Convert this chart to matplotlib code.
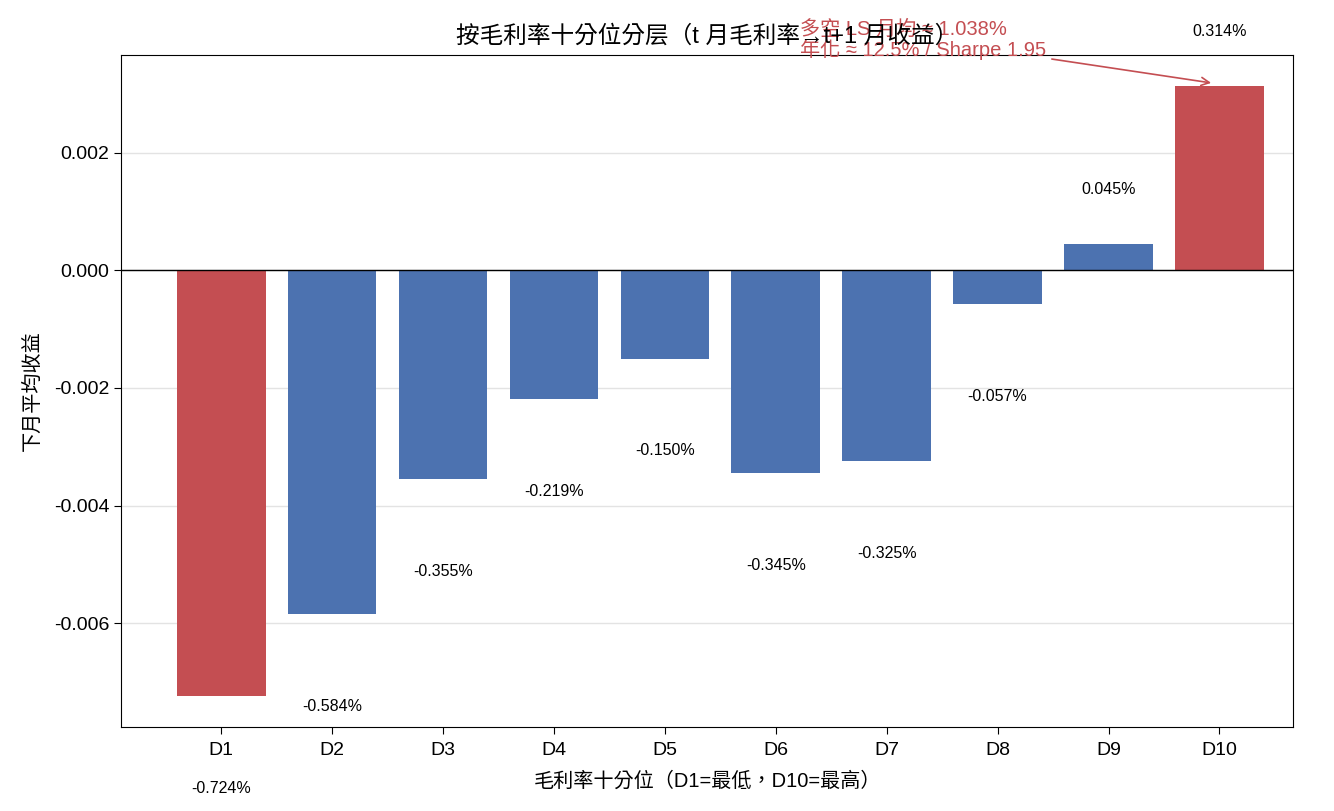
import numpy as np
import matplotlib.pyplot as plt

plt.rcParams['font.family'] = ['Liberation Sans', 'Noto Sans CJK TC', 'DejaVu Sans']
plt.rcParams['axes.unicode_minus'] = False

deciles = ['D1', 'D2', 'D3', 'D4', 'D5', 'D6', 'D7', 'D8', 'D9', 'D10']
ret = np.array([-0.00724, -0.00584, -0.00355, -0.00219, -0.00150,
                -0.00345, -0.00325, -0.00057, 0.00045, 0.00314])
ls_month = ret[-1] - ret[0]
ls_annual = 12.5
sharpe = 1.95

blue = '#4C72B0'
red = '#C44E52'

fig, ax = plt.subplots(figsize=(13.34, 8.11), dpi=100)
x = np.arange(len(deciles))
colors = [red if i in (0, len(deciles) - 1) else blue for i in x]
ax.bar(x, ret, width=0.8, color=colors, zorder=2)
ax.axhline(0, color='black', linewidth=1, zorder=3)
ax.grid(axis='y', color='#e3e3e3', linewidth=1, zorder=0)
ax.set_axisbelow(True)

for i, v in enumerate(ret):
    off = 0.00092 if v > 0 else -0.00157
    ax.text(i, v + off, f'{v*100:.3f}%', ha='center', va='center', fontsize=11.5)

ax.set_xticks(x)
ax.set_xticklabels(deciles)
ax.set_xlim(-0.9, 9.66)
ax.tick_params(labelsize=14, length=5)
ax.tick_params(axis='x', pad=6)
ax.set_xlabel('毛利率十分位（D1=最低，D10=最高）', fontsize=14.5, labelpad=9)
ax.set_ylabel('下月平均收益', fontsize=14.5, labelpad=9)
ax.set_title('按毛利率十分位分层（t 月毛利率→t+1 月收益）', fontsize=17, pad=9)

ax.annotate(f'多空 LS 月均 ≈ {ls_month*100:.3f}%\n年化 ≈ {ls_annual:.1f}% / Sharpe {sharpe:.2f}',
            xy=(8.95, ret[-1] + 0.00004), xytext=(5.22, 0.00392),
            ha='left', va='center', color=red, fontsize=14.5, linespacing=1.0,
            arrowprops=dict(arrowstyle='->', color=red, lw=1.2),
            annotation_clip=False)

plt.subplots_adjust(left=0.091, right=0.969, top=0.932, bottom=0.104)
plt.savefig('out.png', dpi=100)
